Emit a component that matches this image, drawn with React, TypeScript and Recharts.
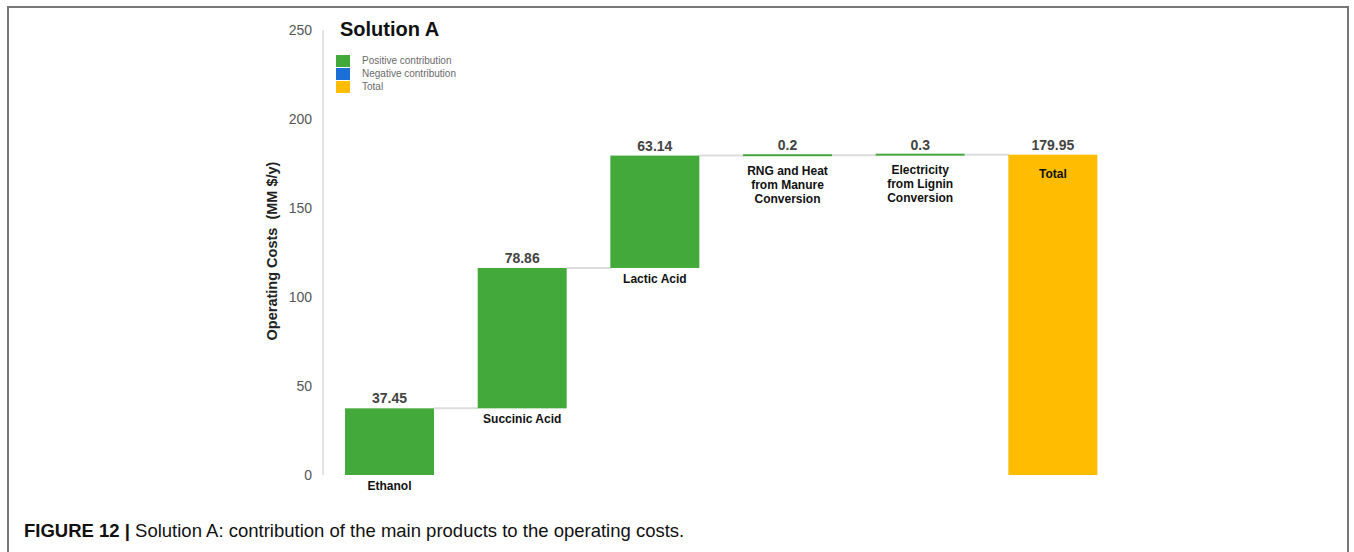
import { BarChart, Bar, XAxis, YAxis, LabelList } from 'recharts'

const categories = ['Ethanol', 'Succinic Acid', 'Lactic Acid', 'RNG and Heat\nfrom Manure\nConversion', 'Electricity\nfrom Lignin\nConversion', 'Total']
const contributions = [37.45, 78.86, 63.14, 0.2, 0.3]
const totalValue = 179.95
const yTicks = [0, 50, 100, 150, 200, 250]

const legendItems = [
  { label: 'Positive contribution', color: '#43A93B' },
  { label: 'Negative contribution', color: '#1C6FD4' },
  { label: 'Total', color: '#FFBC00' },
]

const GREEN = '#43A93B'
const YELLOW = '#FFBC00'
const CONNECTOR = '#dcdcdc'
const GAP = 0.166
const FONT = '"Liberation Sans", Arial, Helvetica, sans-serif'

interface Row {
  name: string
  base: number
  pos: number | null
  total: number | null
}

// waterfall: transparent base + visible step
const rows: Row[] = []
let running = 0
contributions.forEach((v, i) => {
  rows.push({ name: categories[i], base: running, pos: v, total: null })
  running += v
})
rows.push({ name: categories[5], base: 0, pos: null, total: totalValue })

function StepShape(props: any) {
  const { x, y, width, height, payload, fill, kind } = props
  const v = payload?.[kind]
  if (v == null) return null
  const h = Math.max(height, 2)
  const top = height < 2 ? y - 1 : y
  const band = width / (1 - 2 * GAP)
  return (
    <g>
      {kind === 'pos' && (
        <line x1={x + width} x2={x + band} y1={y} y2={y} stroke={CONNECTOR} strokeWidth={2} />
      )}
      <rect x={x} y={top} width={width} height={h} fill={fill} />
    </g>
  )
}

function CategoryLabel(props: any) {
  const { x, y, width, height, index, kind } = props
  if (x == null) return null
  const row = rows[index]
  if (!row || row[kind as 'pos' | 'total'] == null) return null
  const lines = String(categories[index] ?? '').split('\n')
  const cx = x + width / 2
  let start: number
  if (kind === 'total') start = y + 23
  else start = y + height + (lines.length > 1 ? 19 : 15)
  return (
    <text x={cx} y={start} textAnchor="middle" fontSize={12} fontWeight="bold" fill="#111" fontFamily={FONT}>
      {lines.map((l, i) => (
        <tspan key={i} x={cx} dy={i === 0 ? 0 : 14}>{l}</tspan>
      ))}
    </text>
  )
}

function ValueLabel(props: any) {
  const { x, y, width, value } = props
  if (value == null || x == null) return null
  return (
    <text x={x + width / 2} y={y - 5} textAnchor="middle" fontSize={14} fontWeight="bold" fill="#444" fontFamily={FONT}>
      {value}
    </text>
  )
}

function YLabel() {
  return (
    <text
      x={277}
      y={251}
      transform="rotate(-90 277 251)"
      textAnchor="middle"
      fontSize={14.5}
      fontWeight="bold"
      fill="#222"
      fontFamily={FONT}
    >
      Operating Costs {'\u00a0'}(MM $/y)
    </text>
  )
}

export default function App() {
  return (
    <div style={{ position: 'absolute', left: 0, top: 0, width: 1354, height: 552, background: '#fff', fontFamily: FONT, overflow: 'hidden' }}>
      <div style={{ position: 'absolute', left: 7, top: 6, width: 1338, height: 600, borderTop: '2px solid #777', borderLeft: '2px solid #777', borderRight: '2px solid #777' }} />

      <div style={{ position: 'absolute', left: 340, top: 18, fontSize: 20, fontWeight: 'bold', color: '#111' }}>Solution A</div>
      <div style={{ position: 'absolute', left: 336, top: 54 }}>
        {legendItems.map((it) => (
          <div key={it.label} style={{ display: 'flex', alignItems: 'center', height: 13 }}>
            <div style={{ width: 14, height: 12, background: it.color, marginRight: 12 }} />
            <span style={{ fontSize: 10, color: '#6a6a6a' }}>{it.label}</span>
          </div>
        ))}
      </div>

      <div style={{ position: 'absolute', left: 0, top: 0 }}>
        <BarChart
          width={1354}
          height={552}
          data={rows}
          margin={{ top: 30, right: 235, bottom: 77, left: 263 }}
          barCategoryGap={`${GAP * 100}%`}
        >
          <XAxis dataKey="name" hide />
          <YAxis
            width={60}
            domain={[0, 250]}
            ticks={yTicks}
            tickLine={false}
            axisLine={{ stroke: '#dadada', strokeWidth: 1.5 }}
            tick={{ fontSize: 14, fill: '#555', fontFamily: FONT }}
            tickMargin={5}
            label={<YLabel />}
          />
          <Bar dataKey="base" stackId="w" fill="transparent" isAnimationActive={false} />
          <Bar dataKey="pos" stackId="w" fill={GREEN} shape={<StepShape kind="pos" />} isAnimationActive={false}>
            <LabelList dataKey="pos" content={<ValueLabel />} />
            <LabelList dataKey="name" content={<CategoryLabel kind="pos" />} />
          </Bar>
          <Bar dataKey="total" stackId="w" fill={YELLOW} shape={<StepShape kind="total" />} isAnimationActive={false}>
            <LabelList dataKey="total" content={<ValueLabel />} />
            <LabelList dataKey="name" content={<CategoryLabel kind="total" />} />
          </Bar>
        </BarChart>
      </div>

      <div style={{ position: 'absolute', left: 24, top: 520, fontSize: 18.5, color: '#111', whiteSpace: 'nowrap' }}>
        <b>FIGURE 12 |</b> Solution A: contribution of the main products to the operating costs.
      </div>
    </div>
  )
}
